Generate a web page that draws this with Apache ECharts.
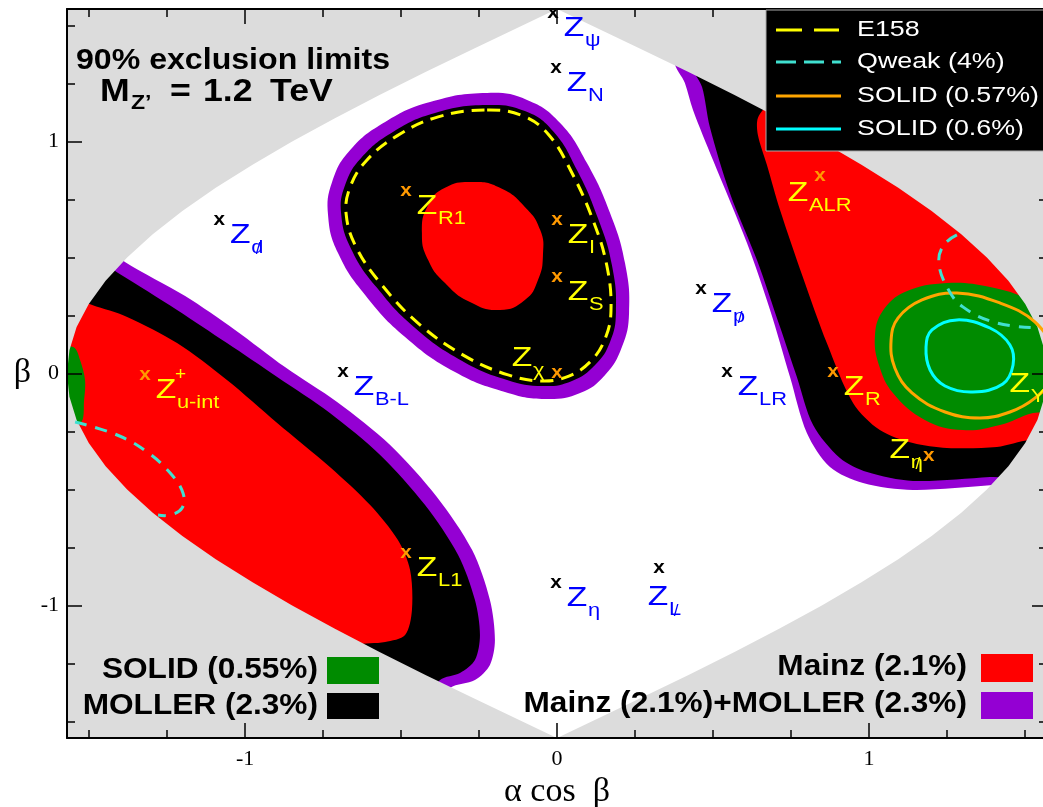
<!DOCTYPE html>
<html><head><meta charset="utf-8">
<script src="https://cdn.jsdelivr.net/npm/echarts@6/dist/echarts.min.js"></script>
<style>html,body{margin:0;padding:0;background:#fff}#c{width:1043px;height:807px}</style>
</head><body><div id="c"></div>
<script>
// ---------- axis ticks ----------
const majorTicks = [-1, 0, 1];
const minorTicks = [-1.5, -1.25, -0.75, -0.5, -0.25, 0.25, 0.5, 0.75, 1.25, 1.5];
const tickLabels = [-1, 0, 1];

// ---------- allowed domain boundary (alpha cos beta, beta) ----------
const domainRight = [[0,1.571],[0.111,1.5],[0.267,1.4],[0.420,1.3],[0.569,1.2],[0.712,1.1],[0.849,1.0],[0.976,0.9],[1.094,0.8],[1.201,0.7],[1.296,0.6],[1.378,0.5],[1.447,0.4],[1.501,0.3],[1.540,0.2],[1.563,0.1],[1.571,0],[1.563,-0.1],[1.540,-0.2],[1.501,-0.3],[1.447,-0.4],[1.378,-0.5],[1.296,-0.6],[1.201,-0.7],[1.094,-0.8],[0.976,-0.9],[0.849,-1.0],[0.712,-1.1],[0.569,-1.2],[0.420,-1.3],[0.267,-1.4],[0.111,-1.5],[0,-1.571]];
const domainLeft = [[0,1.571],[-0.111,1.5],[-0.267,1.4],[-0.420,1.3],[-0.569,1.2],[-0.712,1.1],[-0.849,1.0],[-0.976,0.9],[-1.094,0.8],[-1.201,0.7],[-1.296,0.6],[-1.378,0.5],[-1.447,0.4],[-1.501,0.3],[-1.540,0.2],[-1.563,0.1],[-1.571,0],[-1.563,-0.1],[-1.540,-0.2],[-1.501,-0.3],[-1.447,-0.4],[-1.378,-0.5],[-1.296,-0.6],[-1.201,-0.7],[-1.094,-0.8],[-0.976,-0.9],[-0.849,-1.0],[-0.712,-1.1],[-0.569,-1.2],[-0.420,-1.3],[-0.267,-1.4],[-0.111,-1.5],[0,-1.571]];

// ---------- left region ----------
const leftPurple = [[-1.5,0.6],[-1.385,0.481],[-1.192,0.334],[-1.032,0.188],[-0.872,0.028],[-0.705,-0.123],[-0.535,-0.308],[-0.385,-0.532],[-0.272,-0.761],[-0.215,-0.976],[-0.199,-1.149],[-0.215,-1.256],[-0.263,-1.321],[-0.343,-1.355],[-0.45,-1.5],[-1.7,-1.5],[-1.7,0.6]];
const leftMoller = [[-1.55,0.55],[-1.407,0.433],[-1.218,0.274],[-1.058,0.131],[-0.897,-0.015],[-0.728,-0.170],[-0.567,-0.351],[-0.423,-0.567],[-0.317,-0.782],[-0.263,-0.976],[-0.247,-1.127],[-0.263,-1.235],[-0.311,-1.291],[-0.375,-1.321],[-0.45,-1.45],[-1.7,-1.45],[-1.7,0.55]];
const leftMainz = [[-1.6,0.35],[-1.490,0.295],[-1.378,0.244],[-1.218,0.131],[-1.058,-0.028],[-0.897,-0.213],[-0.728,-0.403],[-0.599,-0.567],[-0.510,-0.718],[-0.471,-0.847],[-0.465,-1.019],[-0.487,-1.127],[-0.551,-1.157],[-0.647,-1.170],[-0.8,-1.25],[-1.7,-1.0],[-1.7,0.35]];
const leftSolid = [[-1.7,0.12],[-1.551,0.114],[-1.529,0.058],[-1.513,-0.028],[-1.516,-0.114],[-1.529,-0.213],[-1.7,-0.22]];
const leftQweak = [[-1.545,-0.209],[-1.410,-0.265],[-1.314,-0.338],[-1.240,-0.429],[-1.199,-0.515],[-1.202,-0.580],[-1.240,-0.610],[-1.279,-0.610]];

// ---------- middle region ----------
const midPurple = [[-0.224,1.209],[-0.096,1.179],[0.010,1.080],[0.096,0.907],[0.170,0.692],[0.218,0.476],[0.231,0.261],[0.208,0.114],[0.154,-0.006],[0.074,-0.084],[-0.038,-0.110],[-0.167,-0.080],[-0.327,0.006],[-0.487,0.157],[-0.615,0.338],[-0.702,0.519],[-0.734,0.683],[-0.721,0.825],[-0.663,0.963],[-0.551,1.084],[-0.407,1.170]];
const midMoller = [[-0.224,1.157],[-0.103,1.131],[-0.013,1.045],[0.064,0.877],[0.131,0.670],[0.176,0.468],[0.189,0.265],[0.170,0.136],[0.122,0.037],[0.048,-0.032],[-0.045,-0.054],[-0.160,-0.028],[-0.304,0.054],[-0.455,0.196],[-0.577,0.369],[-0.660,0.537],[-0.692,0.688],[-0.679,0.813],[-0.628,0.929],[-0.526,1.041],[-0.391,1.123]];
const midE158 = [[-0.224,1.136],[-0.109,1.110],[-0.026,1.028],[0.048,0.864],[0.115,0.662],[0.160,0.463],[0.173,0.269],[0.154,0.149],[0.109,0.054],[0.038,-0.011],[-0.048,-0.032],[-0.157,-0.006],[-0.295,0.075],[-0.442,0.213],[-0.561,0.381],[-0.644,0.545],[-0.676,0.688],[-0.663,0.804],[-0.612,0.916],[-0.513,1.024],[-0.381,1.106]];
const midMainz = [[-0.433,0.606],[-0.413,0.726],[-0.359,0.800],[-0.269,0.825],[-0.183,0.800],[-0.103,0.718],[-0.054,0.619],[-0.045,0.511],[-0.061,0.403],[-0.103,0.317],[-0.183,0.274],[-0.279,0.308],[-0.359,0.390],[-0.413,0.489]];

// ---------- right region ----------
const rightPurple = [[0.378,1.351],[0.410,1.252],[0.436,1.136],[0.500,0.920],[0.609,0.562],[0.683,0.274],[0.747,-0.015],[0.801,-0.256],[0.875,-0.403],[0.981,-0.472],[1.141,-0.502],[1.397,-0.481],[1.7,-0.45],[1.7,1.6],[0.5,1.6]];
const rightMoller = [[0.426,1.351],[0.465,1.235],[0.490,1.062],[0.554,0.778],[0.641,0.489],[0.715,0.200],[0.769,-0.015],[0.821,-0.222],[0.907,-0.364],[0.994,-0.425],[1.141,-0.463],[1.388,-0.446],[1.7,-0.42],[1.7,1.6],[0.5,1.6]];
const rightMainz = [[0.683,1.179],[0.644,1.101],[0.644,1.028],[0.673,0.899],[0.715,0.705],[0.788,0.416],[0.865,0.131],[0.949,-0.127],[1.035,-0.244],[1.141,-0.300],[1.250,-0.321],[1.410,-0.317],[1.516,-0.287],[1.7,-0.28],[1.7,1.4],[0.75,1.4]];
const rightSolid = [[1.019,0.157],[1.042,0.265],[1.115,0.351],[1.250,0.390],[1.388,0.373],[1.516,0.317],[1.612,0.231],[1.612,-0.157],[1.526,-0.170],[1.420,-0.222],[1.301,-0.244],[1.179,-0.200],[1.077,-0.084],[1.032,0.037]];
const solid057 = [[1.071,0.144],[1.093,0.239],[1.170,0.317],[1.282,0.347],[1.420,0.304],[1.532,0.222],[1.587,0.101],[1.580,-0.028],[1.532,-0.106],[1.452,-0.166],[1.356,-0.192],[1.244,-0.166],[1.138,-0.084],[1.083,0.024]];
const solid06 = [[1.183,0.114],[1.202,0.188],[1.282,0.231],[1.388,0.196],[1.452,0.123],[1.462,0.037],[1.429,-0.045],[1.333,-0.080],[1.244,-0.054],[1.196,0.015]];
const rightQweak = [[1.282,0.597],[1.240,0.554],[1.224,0.481],[1.250,0.373],[1.301,0.287],[1.410,0.218],[1.548,0.196]];

// ---------- Z' models ----------
const outsideModels = ['ψ','N','d\u0338','p\u0338','B-L','LR','η','L\u0338'];
const outsideX = [-0.013,-0.003,-1.083,0.462,-0.686,0.545,-0.003,0.327];
const outsideY = [1.545,1.308,0.653,0.356,-0.002,-0.002,-0.912,-0.847];
const insideModels = ['R1','I','S','χ','ALR','R','η\u0338','u-int','L1','Y'];
const insideX = [-0.484,0,0,0,0.843,0.885,1.192,-1.321,-0.484,1.58];
const insideY = [0.778,0.653,0.407,-0.006,0.843,-0.002,-0.364,-0.015,-0.782,-0.01];

// ---------- styling / layout ----------
const C = {purple:'#9400d3', black:'#000000', red:'#ff0000', green:'#008b00', gray:'#dcdcdc',
  yellow:'#ffff00', teal:'#40e0d0', orange:'#ffa500', cyan:'#00ffff', blue:'#0000ff', mark:'#ff9900'};
const labelOffset = {'χ':[-35,-17], 'ALR':[-22,15], 'η\u0338':[-29,-8], 'L\u0338':[-1,27], 'Y':[-30,8]};
const superscripts = {'u-int':'+'};
const SANS = '"Liberation Sans", Arial, sans-serif';
const SERIF = '"Liberation Serif", "Times New Roman", serif';

function polySeries(pts, fill, z, smooth) {
  return {type:'custom', coordinateSystem:'cartesian2d', clip:true, silent:true, z:z,
    xAxisIndex:0, yAxisIndex:0, data:[pts[0]],
    renderItem:(params, api) => ({type:'polygon', shape:{points: pts.map(p => api.coord(p)), smooth: smooth},
      style:{fill: fill, stroke: null}})};
}
function lineSeries(pts, color, dash, closed) {
  return {type:'custom', coordinateSystem:'cartesian2d', clip:true, silent:true, z:4,
    xAxisIndex:0, yAxisIndex:0, data:[pts[0]],
    renderItem:(params, api) => ({type: closed ? 'polygon' : 'polyline',
      shape:{points: pts.map(p => api.coord(p)), smooth: 0.4},
      style:{fill:'none', stroke: color, lineWidth: 3, lineDash: dash || null}})};
}
function maskSeries(boundary, side) {
  const pts = [[side*1.7, 1.7]].concat(boundary, [[side*1.7, -1.7]]);
  return polySeries(pts, C.gray, 3, 0);
}
function labelSeries(names, xs, ys, markColor, textColor) {
  return {type:'custom', coordinateSystem:'cartesian2d', clip:true, silent:true, z:6,
    xAxisIndex:0, yAxisIndex:0, data: xs.map((x,i) => [x, ys[i]]),
    renderItem:(params, api) => {
      const name = names[params.dataIndex];
      const p = api.coord([api.value(0), api.value(1)]);
      const off = labelOffset[name] || [21,13];
      const zx = p[0] + off[0], zy = p[1] + off[1];
      const slashed = name.indexOf('\u0338') >= 0;
      const base = name.replace('\u0338', '');
      const ch = [
        {type:'text', x:p[0], y:p[1]-2, scaleX:1.15, style:{text:'x', font:'bold 18px '+SANS, fill:markColor, align:'center', verticalAlign:'middle'}},
        {type:'text', x:zx, y:zy, scaleX:1.2, style:{text:'Z', font:'28px '+SANS, fill:textColor, align:'center', verticalAlign:'middle'}},
        {type:'text', x:zx+11, y:zy+13, scaleX:1.15, style:{text:base, font:'19px '+SANS, fill:textColor, align:'left', verticalAlign:'middle'}}
      ];
      if (slashed) ch.push({type:'text', x:zx+18, y:zy+14, style:{text:'/', font:'17px '+SANS, fill:textColor, align:'center', verticalAlign:'middle'}});
      if (superscripts[name]) ch.push({type:'text', x:zx+9, y:zy-15, style:{text:superscripts[name], font:'19px '+SANS, fill:textColor, align:'left', verticalAlign:'middle'}});
      return {type:'group', children: ch};
    }};
}

function xAx(pos, ticks, len, main) {
  return {type:'value', min:-1.5708, max:1.5708, position:pos, z:10,
    axisLine:{show: main, onZero:false, lineStyle:{color:'#000', width:2}},
    axisTick:{show:true, inside:true, length:len, customValues:ticks, lineStyle:{color:'#000', width:1.5}},
    axisLabel:{show: main && pos==='bottom', customValues: tickLabels, formatter: v => String(v),
      fontFamily: SERIF, fontSize: 22, color:'#000', margin: 10},
    splitLine:{show:false},
    name: (main && pos==='bottom') ? 'α cos  β' : '', nameLocation:'middle', nameGap: 34,
    nameTextStyle:{fontFamily: SERIF, fontSize: 34, color:'#000'}};
}
function yAx(pos, ticks, len, main) {
  return {type:'value', min:-1.5708, max:1.5708, position:pos, z:10,
    axisLine:{show: main, onZero:false, lineStyle:{color:'#000', width:2}},
    axisTick:{show:true, inside:true, length:len, customValues:ticks, lineStyle:{color:'#000', width:1.5}},
    axisLabel:{show: main && pos==='left', customValues: tickLabels, formatter: v => String(v),
      fontFamily: SERIF, fontSize: 22, color:'#000', margin: 8},
    splitLine:{show:false},
    name: (main && pos==='left') ? 'β' : '', nameLocation:'middle', nameGap: 36, nameRotate: 0,
    nameTextStyle:{fontFamily: SERIF, fontSize: 34, color:'#000'}};
}

const chart = echarts.init(document.getElementById('c'), null, {renderer:'canvas'});
const t = (x, y, text, font, fill, align, sx) => ({type:'text', x, y, scaleX: sx || 1, z:100,
  style:{text, font, fill, align, verticalAlign:'middle'}});
chart.setOption({
  animation:false,
  backgroundColor:'#ffffff',
  grid:{left:67, right:-4, top:9, bottom:69, show:true, backgroundColor:'#ffffff', borderWidth:0,
    containLabel:false, outerBoundsMode:'none'},
  xAxis:[xAx('bottom', majorTicks, 15, true), xAx('bottom', minorTicks, 8, false),
         xAx('top', majorTicks, 15, true), xAx('top', minorTicks, 8, false)],
  yAxis:[yAx('left', majorTicks, 15, true), yAx('left', minorTicks, 8, false),
         yAx('right', majorTicks, 15, true), yAx('right', minorTicks, 8, false)],
  series:[
    polySeries(leftPurple, C.purple, 2, 0.3), polySeries(leftMoller, C.black, 2, 0.3),
    polySeries(leftMainz, C.red, 2, 0.3), polySeries(leftSolid, C.green, 2, 0.3),
    polySeries(midPurple, C.purple, 2, 0.45), polySeries(midMoller, C.black, 2, 0.45), polySeries(midMainz, C.red, 2, 0.5),
    polySeries(rightPurple, C.purple, 2, 0.3), polySeries(rightMoller, C.black, 2, 0.3),
    polySeries(rightMainz, C.red, 2, 0.3), polySeries(rightSolid, C.green, 2, 0.4),
    maskSeries(domainLeft, -1), maskSeries(domainRight, 1),
    lineSeries(midE158, C.yellow, [13,8], true),
    lineSeries(solid057, C.orange, null, true),
    lineSeries(solid06, C.cyan, null, true),
    lineSeries(leftQweak, C.teal, [12,9], false),
    lineSeries(rightQweak, C.teal, [12,9], false),
    labelSeries(outsideModels, outsideX, outsideY, '#000000', C.blue),
    labelSeries(insideModels, insideX, insideY, C.mark, C.yellow)
  ],
  graphic:[
    t(76, 61, '90% exclusion limits', 'bold 30px '+SANS, '#000', 'left', 1.07),
    t(100, 92, 'M', 'bold 31px '+SANS, '#000', 'left', 1.15),
    t(131, 103, 'Z\u2019', 'bold 21px '+SANS, '#000', 'left', 1.1),
    t(170, 92, '=', 'bold 31px '+SANS, '#000', 'left', 1.15),
    t(203, 92, '1.2', 'bold 31px '+SANS, '#000', 'left', 1.15),
    t(270, 92, 'TeV', 'bold 31px '+SANS, '#000', 'left', 1.15),
    {type:'rect', z:99, shape:{x:766, y:10, width:290, height:141}, style:{fill:'#000', stroke:'#aaaaaa', lineWidth:1}},
    {type:'line', z:100, shape:{x1:776, y1:30, x2:839, y2:30}, style:{stroke:C.yellow, lineWidth:3, lineDash:[26,12]}},
    {type:'line', z:100, shape:{x1:776, y1:62, x2:841, y2:62}, style:{stroke:C.teal, lineWidth:3, lineDash:[20,8]}},
    {type:'line', z:100, shape:{x1:776, y1:96, x2:841, y2:96}, style:{stroke:C.orange, lineWidth:3}},
    {type:'line', z:100, shape:{x1:776, y1:129, x2:841, y2:129}, style:{stroke:C.cyan, lineWidth:3}},
    t(857, 30, 'E158', '22px '+SANS, '#fff', 'left', 1.22),
    t(857, 62, 'Qweak (4%)', '22px '+SANS, '#fff', 'left', 1.22),
    t(857, 96, 'SOLID (0.57%)', '22px '+SANS, '#fff', 'left', 1.22),
    t(857, 129, 'SOLID (0.6%)', '22px '+SANS, '#fff', 'left', 1.22),
    t(318, 670, 'SOLID (0.55%)', 'bold 29px '+SANS, '#000', 'right', 1.09),
    t(318, 706, 'MOLLER (2.3%)', 'bold 29px '+SANS, '#000', 'right', 1.09),
    {type:'rect', z:100, shape:{x:327, y:657, width:52, height:27}, style:{fill:C.green}},
    {type:'rect', z:100, shape:{x:327, y:693, width:52, height:26}, style:{fill:C.black}},
    t(967, 667, 'Mainz (2.1%)', 'bold 29px '+SANS, '#000', 'right', 1.09),
    t(967, 704, 'Mainz (2.1%)+MOLLER (2.3%)', 'bold 29px '+SANS, '#000', 'right', 1.09),
    {type:'rect', z:100, shape:{x:981, y:654, width:52, height:28}, style:{fill:C.red}},
    {type:'rect', z:100, shape:{x:981, y:692, width:52, height:27}, style:{fill:C.purple}}
  ]
});
</script></body></html>
